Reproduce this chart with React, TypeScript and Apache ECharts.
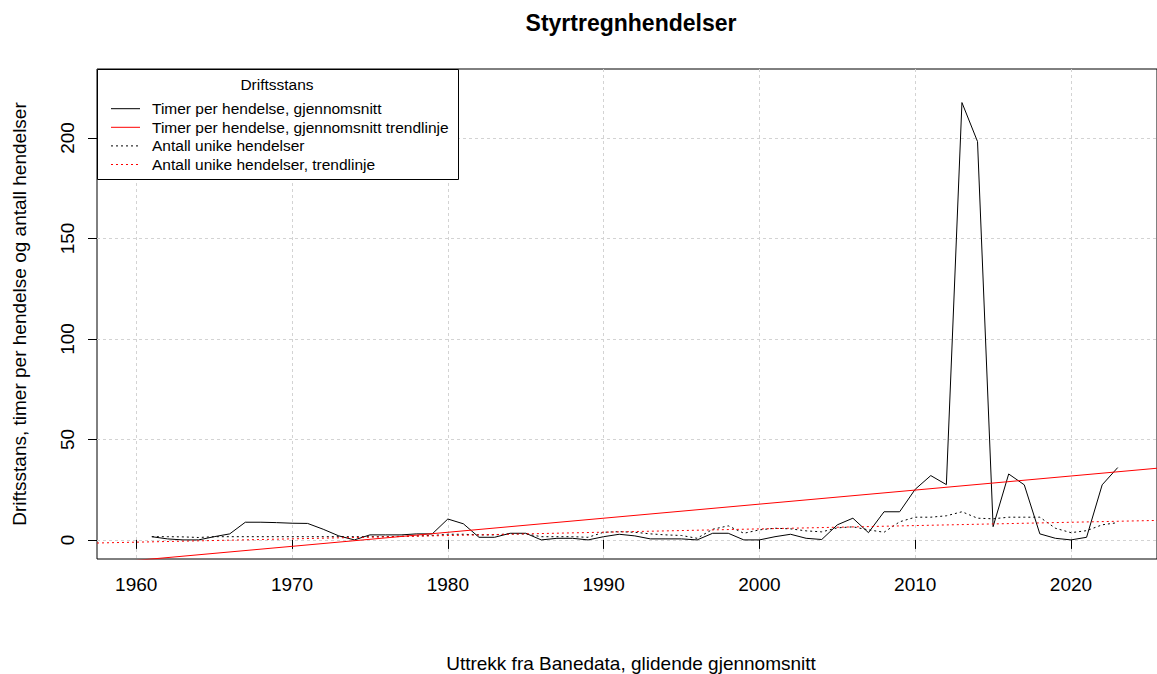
import React, { useEffect, useRef } from 'react';
import * as echarts from 'echarts';

const years = [
  1961, 1962, 1963, 1964, 1965, 1966, 1967, 1968, 1969, 1970,
  1971, 1972, 1973, 1974, 1975, 1976, 1977, 1978, 1979, 1980,
  1981, 1982, 1983, 1984, 1985, 1986, 1987, 1988, 1989, 1990,
  1991, 1992, 1993, 1994, 1995, 1996, 1997, 1998, 1999, 2000,
  2001, 2002, 2003, 2004, 2005, 2006, 2007, 2008, 2009, 2010,
  2011, 2012, 2013, 2014, 2015, 2016, 2017, 2018, 2019, 2020,
  2021, 2022, 2023,
];

const timerAvg = [
  1.6, 0.5, 0, 0, 1.6, 3, 8.8, 8.8, 8.6, 8.3,
  8.2, 5.3, 2, 0, 2.5, 2.5, 2.5, 3, 3, 10.4,
  8, 1.3, 1.3, 3.3, 3.3, 0, 0.8, 0.8, 0, 1.6,
  2.8, 2, 0.5, 0.5, 0.5, 0, 3.3, 3.3, 0, 0,
  1.6, 2.8, 0.8, 0.2, 7.5, 10.8, 3.6, 14, 14, 25.2,
  32, 27.5, 217.6, 198.2, 6.6, 32.8, 27.4, 3, 0.8, 0,
  1.3, 27.4, 36,
];

const antallUnike = [
  1.6, 1.6, 1.5, 1.2, 1.6, 1.6, 1.6, 1.6, 1.6, 1.6,
  1.6, 1.6, 1.6, 1.6, 1.6, 1.6, 1.8, 2, 2.2, 2.8,
  2.8, 2.5, 2.5, 3, 3, 1.6, 1.6, 1.6, 1.3, 3.8,
  4.1, 3.8, 3, 2.5, 2.2, 0.8, 5.3, 7, 3.3, 5,
  5.8, 5.5, 4.5, 4, 6, 6.5, 5, 3.8, 9, 11.3,
  11.3, 12, 14, 10.8, 10.5, 11.3, 11.3, 11.3, 5.8, 3.6,
  4.6, 7.5, 8.6,
];

const trendYears = [1957.48, 2025.52];
const timerTrend = [-11.96, 35.66];
const antallTrend = [-1.54, 9.69];

const xTicks = [1960, 1970, 1980, 1990, 2000, 2010, 2020];
const yTicks = [0, 50, 100, 150, 200];

const legendTitle = 'Driftsstans';
const legendLabels = [
  'Timer per hendelse, gjennomsnitt',
  'Timer per hendelse, gjennomsnitt trendlinje',
  'Antall unike hendelser',
  'Antall unike hendelser, trendlinje',
];

const FONT = '"Liberation Sans", Arial, sans-serif';
const DOT: number[] = [2, 3];

export default function App() {
  const ref = useRef<HTMLDivElement>(null);

  useEffect(() => {
    if (!ref.current) return;
    const chart = echarts.init(ref.current, null, { renderer: 'svg' });

    const legendColors = ['#000000', '#ff0000', '#000000', '#ff0000'];
    const legendDash = [null, null, DOT, DOT];
    const rowY = [108.7, 127.3, 145.9, 164.5];

    const legendElems: any[] = [
      {
        type: 'rect',
        z: 100,
        shape: { x: 97.5, y: 69.5, width: 361, height: 110 },
        style: { fill: '#ffffff', stroke: '#000000', lineWidth: 1 },
      },
      {
        type: 'text',
        z: 101,
        x: 277,
        y: 84,
        style: {
          text: legendTitle,
          fontSize: 15.5,
          fontFamily: FONT,
          fill: '#000',
          align: 'center',
          verticalAlign: 'middle',
        },
      },
    ];
    legendLabels.forEach((lab, i) => {
      legendElems.push({
        type: 'line',
        z: 101,
        shape: { x1: 111, y1: rowY[i], x2: 140, y2: rowY[i] },
        style: {
          stroke: legendColors[i],
          lineWidth: 1,
          lineDash: legendDash[i] || undefined,
        },
      });
      legendElems.push({
        type: 'text',
        z: 101,
        x: 152,
        y: rowY[i],
        style: {
          text: lab,
          fontSize: 15.5,
          fontFamily: FONT,
          fill: '#000',
          align: 'left',
          verticalAlign: 'middle',
        },
      });
    });

    const option: any = {
      animation: false,
      backgroundColor: '#ffffff',
      grid: {
        left: 97,
        right: -8,
        top: 69,
        bottom: 115,
        show: true,
        borderColor: '#000',
        borderWidth: 1,
        backgroundColor: 'transparent',
      },
      xAxis: {
        type: 'value',
        min: 1957.48,
        max: 2025.52,
        axisLine: { show: false },
        axisTick: {
          show: true,
          customValues: xTicks,
          length: 9,
          lineStyle: { color: '#000', width: 1 },
        },
        axisLabel: {
          show: true,
          customValues: xTicks,
          formatter: (v: number) => String(v),
          fontSize: 19,
          fontFamily: FONT,
          color: '#000',
          margin: 16,
        },
        splitLine: {
          show: true,
          lineStyle: { color: '#d3d3d3', width: 1, type: [3, 3] },
        },
      },
      yAxis: {
        type: 'value',
        min: -9.5,
        max: 234.3,
        axisLine: { show: false },
        axisTick: {
          show: true,
          customValues: yTicks,
          length: 9,
          lineStyle: { color: '#000', width: 1 },
        },
        axisLabel: {
          show: true,
          customValues: yTicks,
          formatter: (v: number) => String(v),
          rotate: 90,
          fontSize: 19,
          fontFamily: FONT,
          color: '#000',
          margin: 20,
        },
        splitLine: {
          show: true,
          lineStyle: { color: '#d3d3d3', width: 1, type: [3, 3] },
        },
      },
      series: [
        {
          name: legendLabels[0],
          type: 'line',
          data: years.map((y, i) => [y, timerAvg[i]]),
          symbol: 'none',
          lineStyle: { color: '#000000', width: 1 },
          z: 3,
        },
        {
          name: legendLabels[1],
          type: 'line',
          data: trendYears.map((y, i) => [y, timerTrend[i]]),
          symbol: 'none',
          lineStyle: { color: '#ff0000', width: 1 },
          z: 4,
        },
        {
          name: legendLabels[2],
          type: 'line',
          data: years.map((y, i) => [y, antallUnike[i]]),
          symbol: 'none',
          lineStyle: { color: '#000000', width: 1, type: DOT },
          z: 3,
        },
        {
          name: legendLabels[3],
          type: 'line',
          data: trendYears.map((y, i) => [y, antallTrend[i]]),
          symbol: 'none',
          lineStyle: { color: '#ff0000', width: 1, type: DOT },
          z: 4,
        },
      ],
      graphic: [
        {
          type: 'text',
          x: 631,
          y: 23,
          style: {
            text: 'Styrtregnhendelser',
            fontSize: 23,
            fontWeight: 'bold',
            fontFamily: FONT,
            fill: '#000',
            align: 'center',
            verticalAlign: 'middle',
          },
        },
        {
          type: 'text',
          x: 631,
          y: 663,
          style: {
            text: 'Uttrekk fra Banedata, glidende gjennomsnitt',
            fontSize: 19,
            fontFamily: FONT,
            fill: '#000',
            align: 'center',
            verticalAlign: 'middle',
          },
        },
        {
          type: 'text',
          x: 19,
          y: 314,
          rotation: Math.PI / 2,
          style: {
            text: 'Driftsstans, timer per hendelse og antall hendelser',
            fontSize: 19,
            fontFamily: FONT,
            fill: '#000',
            align: 'center',
            verticalAlign: 'middle',
          },
        },
        ...legendElems,
      ],
    };

    chart.setOption(option);
    return () => chart.dispose();
  }, []);

  return (
    <div
      ref={ref}
      style={{ position: 'fixed', left: 0, top: 0, width: 1157, height: 674 }}
    />
  );
}
